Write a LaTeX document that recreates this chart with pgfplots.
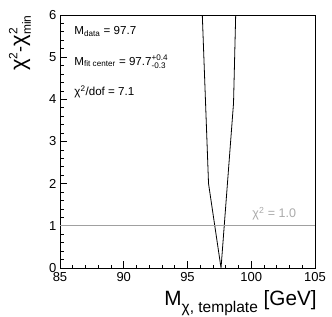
\documentclass[border=0pt]{standalone}
\usepackage{amsmath}
\usepackage{fontspec}
\setmainfont{Liberation Sans}
\usepackage{pgfplots}
\pgfplotsset{compat=1.18}
\definecolor{lgray}{RGB}{160,160,160}
\definecolor{tgray}{RGB}{170,170,170}
\newcommand\bigchi{{\fontsize{22}{24}\selectfont χ}}
\begin{document}
\begin{tikzpicture}
\useasboundingbox (-60pt,-48pt) rectangle (272pt,268pt);
\begin{axis}[
  scale only axis,
  width=255pt, height=253pt,
  xmin=85, xmax=105, ymin=0, ymax=6,
  xtick={85,90,95,100,105}, ytick={0,1,2,3,4,5,6},
  minor x tick num=4, minor y tick num=4,
  tick align=inside,
  xtick pos=bottom, ytick pos=left,
  major tick length=7pt, minor tick length=3.5pt,
  axis line style={line width=0.9pt},
  every tick/.style={black, line width=0.8pt},
  /pgf/number format/assume math mode=true,
  ticklabel style={font=\fontsize{13}{15}\selectfont},
  xticklabel style={yshift=-1pt},
  xlabel={M\raisebox{-0.3em}{\fontsize{15.5}{17}\selectfont χ, template} [GeV]},
  xlabel style={at={(axis description cs:1.02,-0.150)}, anchor=base east, font=\fontsize{20.7}{23}\selectfont},
  ylabel={\bigchi\raisebox{0.45em}{\fontsize{12}{13}\selectfont 2}-\bigchi\rlap{\raisebox{0.45em}{\fontsize{12}{13}\selectfont 2}}\raisebox{-0.3em}{\fontsize{12}{13}\selectfont min}},
  ylabel style={at={(axis description cs:-0.157,1.012)}, anchor=east, font=\fontsize{18}{20}\selectfont},
  clip=true,
]
\addplot[black, line width=0.8pt] coordinates {
  (96.10,6.5) (96.65,2.0) (97.63,0) (98.61,3.91) (98.82,6.5)
};
\addplot[lgray, line width=0.8pt] coordinates {(85,1) (105,1)};
\node[anchor=base west, font=\fontsize{11.6}{14}\selectfont] at (axis description cs:0.043,0.924) {M\textsubscript{data} = 97.7};
\node[anchor=base west, font=\fontsize{11.6}{14}\selectfont] at (axis description cs:0.043,0.802) {M\textsubscript{fit center} = 97.7$^{\text{+0.4}}_{\text{-0.3}}$};
\node[anchor=base west, font=\fontsize{11.6}{14}\selectfont] at (axis description cs:0.043,0.680) {χ$^{\text{2}}$/dof = 7.1};
\node[anchor=base west, font=\fontsize{12.5}{15}\selectfont, text=tgray] at (axis description cs:0.741,0.198) {χ$^{\text{2}}$ = 1.0};
\end{axis}
\end{tikzpicture}
\end{document}
